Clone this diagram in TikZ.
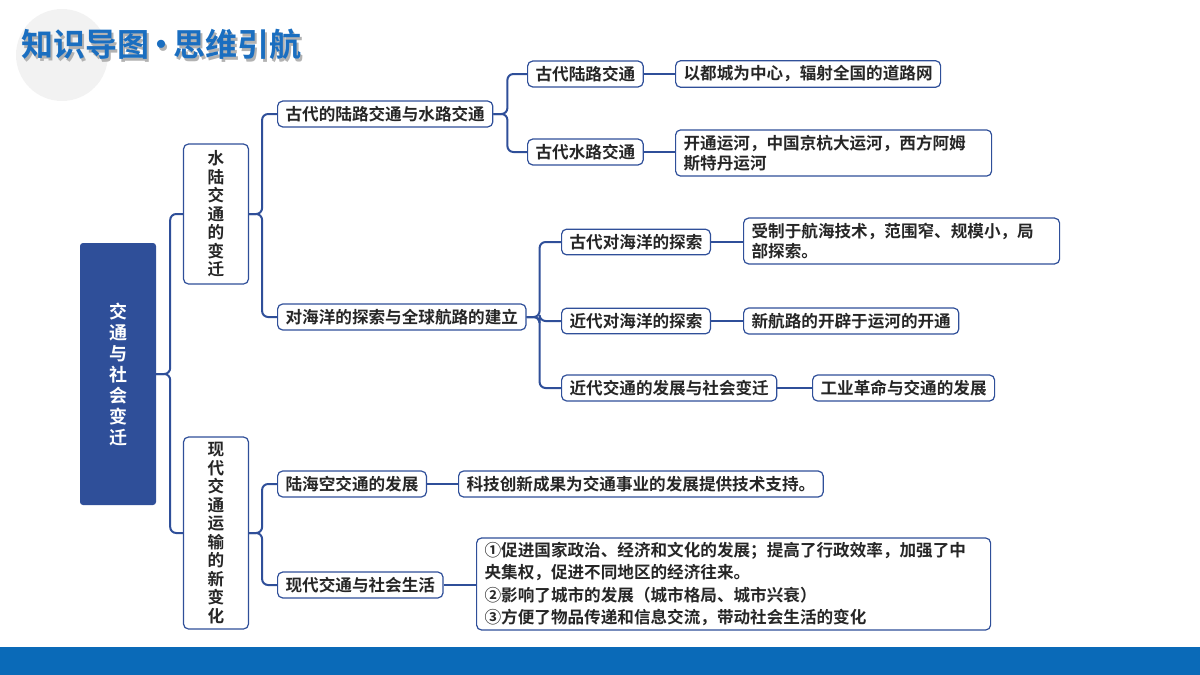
\documentclass[tikz,border=0pt]{standalone}
\usepackage{fontspec}
\setmainfont{Noto Sans CJK SC}[BoldFont={Noto Sans CJK SC Bold}]
\XeTeXlinebreaklocale "zh"
\definecolor{navy}{HTML}{2F4F99}
\definecolor{barblue}{HTML}{0A6AB8}
\definecolor{titleblue}{HTML}{1A6EC0}
\tikzset{
  topic/.style={draw=navy, line width=1.2pt, rounded corners=5pt, fill=white,
    inner xsep=8pt, inner ysep=5pt, font=\fontsize{16.6}{20}\bfseries\selectfont, text=black!85, anchor=west},
  vtopic/.style={topic, anchor=center, align=center, minimum width=65pt, inner xsep=2pt,
    font=\fontsize{16.6}{18.5}\bfseries\selectfont},
  note/.style={topic, align=left},
  branch/.style={draw=navy, line width=2pt, rounded corners=6pt},
}
\begin{document}
\begin{tikzpicture}[x=1pt,y=-1pt]
  \useasboundingbox (0,0) rectangle (1200,675);
  % header and footer
  \fill[gray!10] (62,55) circle (46);
  \node[font=\fontsize{32}{36}\bfseries\selectfont, text=gray!60, anchor=west] at (20,47) {知识导图\kern-4pt·\kern-4pt思维引航};
  \node[font=\fontsize{32}{36}\bfseries\selectfont, text=titleblue, anchor=west] (title) at (18,44) {知识导图\kern-4pt·\kern-4pt思维引航};
  \fill[barblue] (0,647) rectangle (1200,675);

  % root
  \node[fill=navy, rounded corners=3pt, minimum width=76pt, minimum height=262pt,
    text=white, align=center, font=\fontsize{18}{21}\bfseries\selectfont] (root) at (118,374)
    {交\\通\\与\\社\\会\\变\\迁};

  % first level
  \node[vtopic, minimum height=140pt] (water) at (216,214) {水\\陆\\交\\通\\的\\变\\迁};
  \node[vtopic, minimum height=192pt] (modern) at (216,533) {现\\代\\交\\通\\运\\输\\的\\新\\变\\化};

  % second level
  \node[topic] (ancient) at (277,114) {古代的陆路交通与水路交通};
  \node[topic] (ocean) at (277,317) {对海洋的探索与全球航路的建立};
  \node[topic] (lsa) at (277,484) {陆海空交通的发展};
  \node[topic] (life) at (277,585) {现代交通与社会生活};

  % third level
  \node[topic] (land) at (527,74) {古代陆路交通};
  \node[topic] (river) at (527,152) {古代水路交通};
  \node[topic] (oldsea) at (561,242) {古代对海洋的探索};
  \node[topic] (newsea) at (561,321) {近代对海洋的探索};
  \node[topic] (change) at (561,388) {近代交通的发展与社会变迁};

  % leaves
  \node[note] (landnote) at (675,74) {以都城为中心，辐射全国的道路网};
  \node[note, text width=300pt] (rivernote) at (675,153) {开通运河，中国京杭大运河，西方阿姆\\斯特丹运河};
  \node[note, text width=300pt] (oldseanote) at (743,241) {受制于航海技术，范围窄、规模小，局\\部探索。};
  \node[note] (newseanote) at (743,321) {新航路的开辟于运河的开通};
  \node[note] (changenote) at (812,388) {工业革命与交通的发展};
  \node[note] (lsanote) at (458,484) {科技创新成果为交通事业的发展提供技术支持。};
  \node[note, text width=498pt, inner ysep=4pt, font=\fontsize{16.6}{22.5}\bfseries\selectfont] (lifenote) at (476,584)
    {①促进国家政治、经济和文化的发展；提高了行政效率，加强了中\\央集权，促进不同地区的经济往来。\\②影响了城市的发展（城市格局、城市兴衰）\\③方便了物品传递和信息交流，带动社会生活的变化};

  % connectors
  \draw[branch] (root.east) -- ++(14,0) |- (water.west);
  \draw[branch] (root.east) -- ++(14,0) |- (modern.west);
  \draw[branch] (water.east) -- ++(13,0) |- (ancient.west);
  \draw[branch] (water.east) -- ++(13,0) |- (ocean.west);
  \draw[branch] (modern.east) -- ++(13,0) |- (lsa.west);
  \draw[branch] (modern.east) -- ++(13,0) |- (life.west);
  \draw[branch] (ancient.east) -- ++(14,0) |- (land.west);
  \draw[branch] (ancient.east) -- ++(14,0) |- (river.west);
  \draw[branch] (ocean.east) -- ++(13,0) |- (oldsea.west);
  \draw[branch] (ocean.east) -- ++(13,0) |- (newsea.west);
  \draw[branch] (ocean.east) -- ++(13,0) |- (change.west);
  \draw[branch] (land) -- (landnote);
  \draw[branch] (river) -- (river.east -| rivernote.west);
  \draw[branch] (oldsea) -- (oldsea.east -| oldseanote.west);
  \draw[branch] (newsea) -- (newseanote);
  \draw[branch] (change) -- (changenote);
  \draw[branch] (lsa) -- (lsanote);
  \draw[branch] (life) -- (life.east -| lifenote.west);
\end{tikzpicture}
\end{document}
